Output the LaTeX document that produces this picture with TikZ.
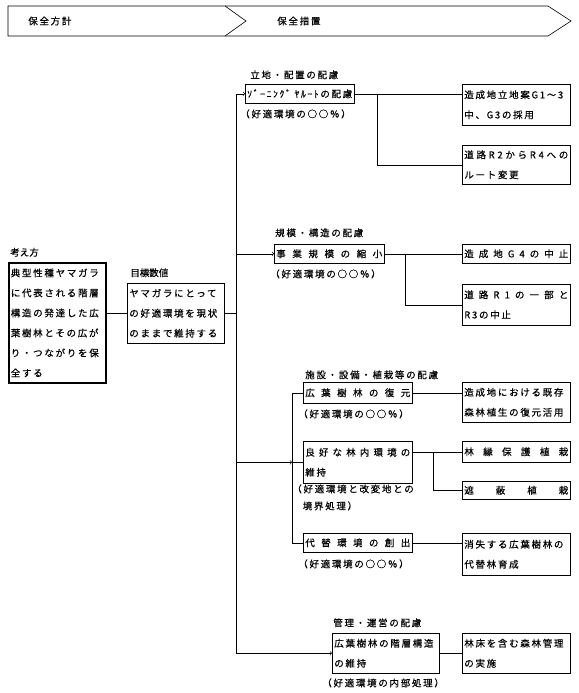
\documentclass[tikz,border=0pt]{standalone}
\usepackage{fontspec}
\setmainfont[FakeBold=0.4]{Noto Sans CJK JP}
\newfontfamily\jp[LetterSpace=18,FakeBold=0.4]{Noto Sans CJK JP}
\usetikzlibrary{arrows, positioning}
\newcommand\dist[2]{\makebox[#1][s]{#2}}

\begin{document}
\begin{tikzpicture}[x=1pt,y=-1pt,line width=0.6pt,
  every node/.style={font=\jp\fontsize{9.5}{20}\selectfont},
  box/.style={draw,anchor=north west,inner xsep=2pt,inner ysep=0pt,align=left,text width=#1},
  box/.default=104pt,
  lbl/.style={inner sep=0pt},
  note/.style={inner sep=0pt,align=left}]
  \useasboundingbox (0,0) rectangle (578,693);

  % header
  \draw (8,6) -- (225,6) -- (246,21) -- (225,36) -- (8,36) -- cycle;
  \draw (225,6) -- (548,6) -- (571,21) -- (548,36) -- (225,36);
  \node[lbl,anchor=west] (hoshin) at (28,21)  {保全方計};
  \node[lbl,anchor=west] (sochi)  at (277,21) {保全措置};

  % left part
  \node[box=93pt,minimum height=120pt,line width=1.6pt] (kangae) at (8,262)
    {典型性種ヤマガラ\\に代表される階層\\構造の発達した広\\葉樹林とその広が\\り・つながりを保\\全する};
  \node[box=93pt,minimum height=60pt] (mokuhyo) at (127,283)
    {ヤマガラにとって\\の好適環境を現状\\のままで維持する};
  \node[lbl,font=\fontsize{9.5}{9.5}\selectfont,above right=5pt and 2pt of kangae.north west]  {考え方};
  \node[lbl,font=\fontsize{9.5}{9.5}\selectfont,above right=5.5pt and 3pt of mokuhyo.north west] {目標数値};

  % measures
  \node[box=105pt,minimum height=19pt] (zon)    at (245,84)  {\dist{105pt}{ｿﾞｰﾆﾝｸﾞ\hfil ﾔﾙｰﾄの配慮}};
  \node[box=106pt,minimum height=19pt] (kibo)   at (274,244) {\dist{106pt}{事\hfil 業\hfil 規\hfil 模\hfil の\hfil 縮\hfil 小}};
  \node[box=105pt,minimum height=21pt] (fuku)   at (303,382) {\dist{105pt}{広\hfil 葉\hfil 樹\hfil 林\hfil の\hfil 復\hfil 元}};
  \node[box=105pt,minimum height=42pt] (ryoko)  at (303,441) {\dist{105pt}{良\hfil 好\hfil な\hfil 林\hfil 内\hfil 環\hfil 境\hfil の}\\維持};
  \node[box=105pt,minimum height=19pt] (daitai) at (303,533) {\dist{105pt}{代\hfil 替\hfil 環\hfil 境\hfil の\hfil 創\hfil 出}};
  \node[box=103pt,minimum height=40pt] (kanri)  at (332,633) {広葉樹林の階層構造\\の維持};

  \node[lbl,above right=4.5pt and 5pt of zon.north west]    {立地・配置の配慮};
  \node[lbl,above right=6.5pt and 1pt of kibo.north west]   {規模・構造の配慮};
  \node[lbl,above right=2.5pt and 2pt of fuku.north west]   {施設・設備・植栽等の配慮};
  \node[lbl,above right=5.5pt and 1pt of kanri.north west]  {管理・運営の配慮};

  \node[note,below right=5.5pt and -5pt of zon.south west]    {（好適環境の○○％）};
  \node[note,below right=5.5pt and -4pt of kibo.south west]   {（好適環境の○○％）};
  \node[note,below right=5.5pt and -5pt of fuku.south west]   {（好適環境の○○％）};
  \node[note,below right=0.5pt and -11pt of ryoko.south west,font=\jp\fontsize{9.5}{17}\selectfont]
    {（好適環境と改変地との\\\hspace*{10.5pt}境界処理）};
  \node[note,below right=6.5pt and -5pt of daitai.south west] {（好適環境の○○％）};
  \node[note,below right=4.5pt and -10pt of kanri.south west] {（好適環境の内部処理）};

  % results
  \node[box,minimum height=41pt] (r_1) at (462,84)  {造成地立地案G1～3\\中、G3の採用};
  \node[box,minimum height=39pt] (r_2) at (462,145) {\dist{104pt}{道\hfil 路\hfil R\hfil 2\hfil か\hfil ら\hfil R\hfil 4\hfil へ\hfil の}\\ルート変更};
  \node[box,minimum height=19pt] (k_1) at (462,244) {\dist{104pt}{造\hfil 成\hfil 地\hfil G\hfil 4\hfil の\hfil 中\hfil 止}};
  \node[box,minimum height=41pt] (k_2) at (462,284) {\dist{104pt}{道\hfil 路\hfil R\hfil 1\hfil の\hfil 一\hfil 部\hfil と}\\R3の中止};
  \node[box,minimum height=40pt] (f_1) at (462,382) {造成地における既存\\森林植生の復元活用};
  \node[box,minimum height=21pt] (y_1) at (462,441) {\dist{104pt}{林\hfil 縁\hfil 保\hfil 護\hfil 植\hfil 栽}};
  \node[box,minimum height=18pt] (y_2) at (462,481) {\dist{104pt}{遮\hfil 蔽\hfil 植\hfil 栽}};
  \node[box,minimum height=42pt] (d_1) at (462,533) {消失する広葉樹林の\\代替林育成};
  \node[box,minimum height=40pt] (m_1) at (462,633) {林床を含む森林管理\\の実施};

  \coordinate (trunk) at (236,0);
  \coordinate (sub)   at (292,0);
  \coordinate (j_1)   at (377,0);
  \coordinate (j_2)   at (405,0);
  \coordinate (j_3)   at (433,0);

  % connectors
  \draw (mokuhyo.west -| kangae.east) -- (mokuhyo);
  \draw (mokuhyo.east) -- (mokuhyo.east -| trunk);
  \draw[->] (zon.west -| trunk) |- (kanri);
  \draw[->] (zon.west -| trunk) -- (zon);
  \draw[->] (kibo.west -| trunk) -- (kibo);
  \draw[->] (ryoko.west -| trunk) -- (ryoko.west -| sub);
  \draw (fuku.west) -- (fuku.west -| sub) -- (daitai.west -| sub) -- (daitai.west);
  \draw (ryoko.west -| sub) -- (ryoko);

  \draw (zon) -- (zon -| r_1.west);
  \draw (zon -| j_1) |- (r_2);
  \draw (kibo) -- (k_1);
  \draw (kibo -| j_2) |- (k_2);
  \draw (fuku) -- (fuku -| f_1.west);
  \draw (ryoko.east |- y_1) -- (y_1);
  \draw (y_1 -| j_3) |- (y_2);
  \draw (daitai) -- (daitai -| d_1.west);
  \draw (kanri) -- (m_1);
\end{tikzpicture}
\end{document}
